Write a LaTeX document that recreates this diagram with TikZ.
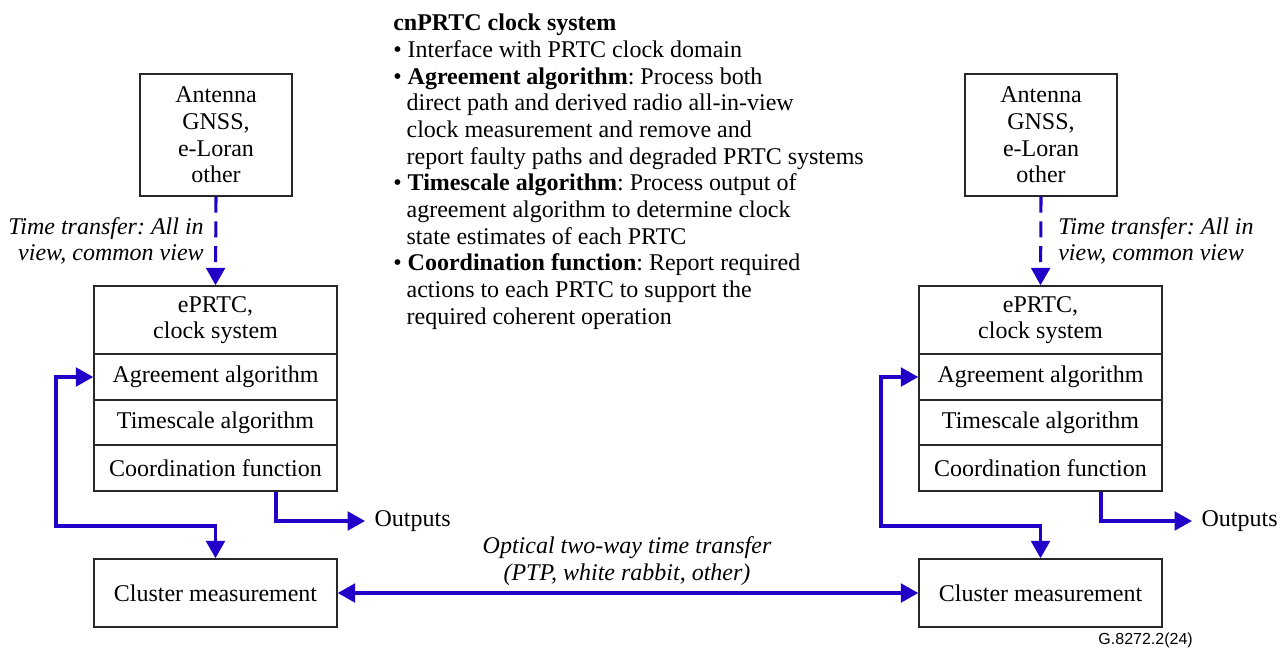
\documentclass[tikz,border=0pt]{standalone}
\usepackage{fontspec}
\setmainfont{Liberation Serif}
\newfontfamily\labelsans{Liberation Sans}
\usetikzlibrary{arrows.meta,calc}
\definecolor{linkblue}{RGB}{34,0,200}
\definecolor{boxgray}{RGB}{40,40,40}
\frenchspacing
\tikzset{
  box/.style={draw=boxgray, line width=1.1pt, rectangle, inner sep=0pt, align=center,
    font=\fontsize{18pt}{20pt}\selectfont},
  link/.style={draw=linkblue, line width=2.3pt, -{Triangle[length=13pt,width=14pt]}},
  linkboth/.style={draw=linkblue, line width=2.3pt, {Triangle[length=13pt,width=14pt]}-{Triangle[length=13pt,width=14pt]}},
  dashlink/.style={link, dash pattern=on 12pt off 6.5pt},
  plain/.style={inner sep=0pt, font=\fontsize{18pt}{20pt}\selectfont},
  italic/.style={plain, font=\fontsize{18pt}{20pt}\selectfont\itshape},
  outlabel/.style={plain, inner xsep=7pt, anchor=west}
}
\begin{document}
\begin{tikzpicture}[x=0.75pt,y=-0.75pt]
\useasboundingbox (0,0) rectangle (1284,650);

% ---------- left column ----------
\node[box, minimum width=114pt, minimum height=91.5pt] (antL) at (216,135)
  {Antenna\\GNSS,\\e-Loran\\other};
\node[box, minimum width=182.25pt, minimum height=51pt] (epL) at (215.5,320) {ePRTC,\\clock system};
\node[box, minimum width=182.25pt, minimum height=34.5pt] (agL) at (215.5,377) {Agreement algorithm};
\node[box, minimum width=182.25pt, minimum height=33.75pt] (tsL) at (215.5,422.5) {Timescale algorithm};
\node[box, minimum width=182.25pt, minimum height=34.5pt] (cfL) at (215.5,468) {Coordination function};
\node[box, minimum width=182.25pt, minimum height=51pt] (clL) at (215.5,593) {Cluster measurement};
\node[outlabel] (outL) at (365,521) {Outputs};
\node[italic, anchor=east, align=right] (ttL) at (204,241) {Time transfer: All in\\view, common view};
\coordinate (fbL) at (56,526);

% ---------- right column ----------
\node[box, minimum width=114pt, minimum height=91.5pt] (antR) at (1041,135)
  {Antenna\\GNSS,\\e-Loran\\other};
\node[box, minimum width=182.25pt, minimum height=51pt] (epR) at (1040.5,320) {ePRTC,\\clock system};
\node[box, minimum width=182.25pt, minimum height=34.5pt] (agR) at (1040.5,377) {Agreement algorithm};
\node[box, minimum width=182.25pt, minimum height=33.75pt] (tsR) at (1040.5,422.5) {Timescale algorithm};
\node[box, minimum width=182.25pt, minimum height=34.5pt] (cfR) at (1040.5,468) {Coordination function};
\node[box, minimum width=182.25pt, minimum height=51pt] (clR) at (1040.5,593) {Cluster measurement};
\node[outlabel] (outR) at (1192,521) {Outputs};
\node[italic, anchor=west, align=left] (ttR) at (1058,241) {Time transfer: All in\\view, common view};
\coordinate (fbR) at (881,526);

% ---------- centre text ----------
\node[plain, anchor=north west, align=left] (desc) at (393,14) {%
\textbf{cnPRTC clock system}\\
\textbullet\ Interface with PRTC clock domain\\
\textbullet\ \textbf{Agreement algorithm}: Process both\\
\hspace*{10pt}direct path and derived radio all-in-view\\
\hspace*{10pt}clock measurement and remove and\\
\hspace*{10pt}report faulty paths and degraded PRTC systems\\
\textbullet\ \textbf{Timescale algorithm}: Process output of\\
\hspace*{10pt}agreement algorithm to determine clock\\
\hspace*{10pt}state estimates of each PRTC\\
\textbullet\ \textbf{Coordination function}: Report required\\
\hspace*{10pt}actions to each PRTC to support the\\
\hspace*{10pt}required coherent operation};

\node[italic, align=center] (optlabel) at (627,561) {Optical two-way time transfer\\(PTP, white rabbit, other)};
\node[inner sep=0pt, font=\labelsans\fontsize{12pt}{14pt}\selectfont, anchor=east] (figid) at (1193,640) {G.8272.2(24)};

% ---------- connectors ----------
\draw[dashlink] (antL.south) -- (epL.north);
\draw[dashlink] (antR.south) -- (epR.north);

\draw[linkboth] (agL.west) -| (fbL) -| (clL.north);
\draw[linkboth] (agR.west) -| (fbR) -| (clR.north);

\draw[link] ($(cfL.south)+(60.5,0)$) |- (outL.west);
\draw[link] ($(cfR.south)+(60.5,0)$) |- (outR.west);

\draw[linkboth] (clL.east) -- (clR.west);
\end{tikzpicture}
\end{document}
